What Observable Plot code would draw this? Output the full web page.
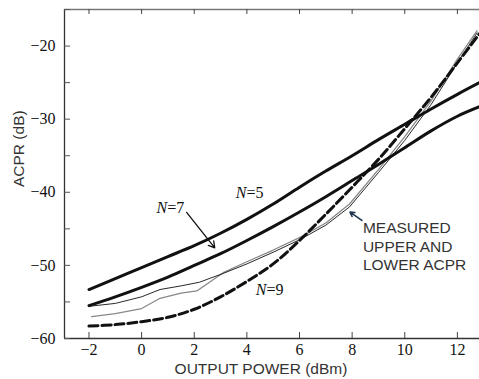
<!DOCTYPE html>
<html>
<head>
<meta charset="utf-8">
<script src="https://cdn.jsdelivr.net/npm/d3@7"></script>
<script src="https://cdn.jsdelivr.net/npm/@observablehq/plot@0.6"></script>
<style>
  html, body { margin: 0; padding: 0; background: #fff; }
  #chart svg { display: block; }
</style>
</head>
<body>
<div id="chart"></div>
<script>
// ---- data ----
const modelPower = [-2, -1, 0, 1, 2, 3, 4, 5, 6, 7, 8, 9, 10, 11, 12, 12.84];
const acprN5 = [-53.3, -51.8, -50.3, -48.8, -47.3, -45.6, -43.7, -41.6, -39.3, -37.1, -35.0, -32.8, -30.7, -28.6, -26.6, -25.0];
const acprN7 = [-55.5, -54.3, -53.0, -51.6, -50.0, -48.4, -46.6, -44.7, -42.7, -40.6, -38.4, -36.2, -33.9, -31.6, -29.6, -28.3];
const acprN9 = [-58.3, -58.1, -57.7, -57.1, -56.0, -54.3, -52.2, -49.8, -46.6, -43.0, -39.3, -35.5, -31.3, -27.0, -22.3, -18.3];

const measUpperPower = [-2, -1, 0, 0.7, 1.5, 2.2, 3.1, 4, 5, 6, 7, 7.9, 9, 10, 11, 12, 12.75];
const measUpper = [-55.6, -55.2, -54.3, -53.3, -52.8, -52.3, -51.1, -49.8, -48.2, -46.5, -44.5, -42.0, -37.3, -32.9, -28.0, -22.3, -18.2];
const measLowerPower = [-1.9, -1, 0, 0.7, 1.5, 2.1, 3.1, 4, 5, 6, 7, 7.9, 9, 10, 11, 12, 12.75];
const measLower = [-57.0, -56.6, -55.9, -54.5, -53.8, -53.5, -51.0, -49.5, -47.9, -46.2, -44.2, -41.6, -36.9, -32.4, -27.5, -21.8, -17.9];

const xTicks = [-2, 0, 2, 4, 6, 8, 10, 12];
const yTickLabels = [-60, -50, -40, -30, -20];
const yTicks = [-60, -55, -50, -45, -40, -35, -30, -25, -20, -15];

const nLabels = ["N=5", "N=7", "N=9"];
const nLabelX = [3.58, 0.57, 4.34];
const nLabelY = [-40.8, -42.9, -54.1];

const measuredText = ["MEASURED", "UPPER AND", "LOWER ACPR"];
const measuredTextX = [8.41, 8.41, 8.41];
const measuredTextY = [-45.6, -48.15, -50.65];

// arrows: [x1, y1, x2, y2]
const arrowN7 = [1.71, -42.76, 2.78, -47.6];
const arrowMeas = [8.37, -43.85, 7.92, -42.72];

const xLabel = "OUTPUT POWER (dBm)";
const yLabel = "ACPR (dB)";

// ---- layout ----
const W = 479, H = 379;
const mL = 64, mR = 0, mT = 9, mB = 41;
const xDomain = [-2.93, 12.84];
const yDomain = [-60, -15];
const pxPerX = (W - mL - mR) / (xDomain[1] - xDomain[0]);
const pxPerY = (H - mT - mB) / (yDomain[1] - yDomain[0]);
const tickLen = 6;

const series = (xs, ys) => xs.map((x, i) => ({x, y: ys[i]}));
const n5 = series(modelPower, acprN5);
const n7 = series(modelPower, acprN7);
const n9 = series(modelPower, acprN9);
const mUp = series(measUpperPower, measUpper);
const mLo = series(measLowerPower, measLower);
const nLab = nLabels.map((t, i) => ({t, x: nLabelX[i], y: nLabelY[i]}));
const mText = measuredText.map((t, i) => ({t, x: measuredTextX[i], y: measuredTextY[i]}));
const fmt = d => d < 0 ? "\u2212" + Math.abs(d) : String(d);

const serif = "'Liberation Serif', 'Times New Roman', serif";
const sans = "'Liberation Sans', Arial, sans-serif";

const chart = Plot.plot({
  width: W, height: H,
  marginLeft: mL, marginRight: mR, marginTop: mT, marginBottom: mB,
  x: {domain: xDomain, axis: null},
  y: {domain: yDomain, axis: null},
  style: {background: "#fff"},
  marks: [
    // frame lines
    Plot.ruleX([xDomain[0]], {stroke: "#333", strokeWidth: 1.3}),
    Plot.ruleY([yDomain[0]], {stroke: "#333", strokeWidth: 1.3}),
    Plot.ruleY([yDomain[1]], {stroke: "#777", strokeWidth: 1.5}),
    // inward ticks
    Plot.ruleY(yTicks, {y: d => d, x1: xDomain[0], x2: xDomain[0] + tickLen / pxPerX, stroke: "#555", strokeWidth: 1}),
    Plot.ruleX(xTicks, {x: d => d, y1: yDomain[0], y2: yDomain[0] + tickLen / pxPerY, stroke: "#444", strokeWidth: 1}),
    Plot.ruleX(xTicks, {x: d => d, y1: yDomain[1], y2: yDomain[1] - 5 / pxPerY, stroke: "#444", strokeWidth: 1}),
    // tick labels
    Plot.axisX({ticks: xTicks, tickSize: 0, tickPadding: 5, tickFormat: fmt, label: null,
      fontFamily: serif, fontSize: 16, color: "#111"}),
    Plot.axisY({ticks: yTickLabels, tickSize: 0, tickPadding: 9, tickFormat: fmt, label: null,
      fontFamily: serif, fontSize: 16, color: "#111"}),
    // curves
    Plot.line(mLo, {x: "x", y: "y", stroke: "#888", strokeWidth: 1.3, clip: true}),
    Plot.line(mUp, {x: "x", y: "y", stroke: "#111", strokeWidth: 0.9, clip: true}),
    Plot.line(n5, {x: "x", y: "y", curve: "catmull-rom", stroke: "#111", strokeWidth: 3, clip: true}),
    Plot.line(n7, {x: "x", y: "y", curve: "catmull-rom", stroke: "#111", strokeWidth: 3, clip: true}),
    Plot.line(n9, {x: "x", y: "y", curve: "catmull-rom", stroke: "#111", strokeWidth: 3, strokeDasharray: "9,4", clip: true}),
    // annotations
    Plot.arrow([arrowN7], {x1: d => d[0], y1: d => d[1], x2: d => d[2], y2: d => d[3], stroke: "#111", strokeWidth: 1.3, headLength: 8}),
    Plot.arrow([arrowMeas], {x1: d => d[0], y1: d => d[1], x2: d => d[2], y2: d => d[3], stroke: "#1d3550", strokeWidth: 1.6, headLength: 6}),
    Plot.text(nLab, {x: "x", y: "y", text: "t", textAnchor: "start", lineAnchor: "bottom",
      fontFamily: serif, fontSize: 16, fill: "#111", className: "nlab"}),
    Plot.text(mText, {x: "x", y: "y", text: "t", textAnchor: "start", lineAnchor: "bottom",
      fontFamily: sans, fontSize: 15.5, fill: "#333"}),
    // axis titles
    Plot.text([xLabel], {frameAnchor: "bottom", text: d => d, lineAnchor: "bottom", dy: 35, dx: -11,
      fontFamily: sans, fontSize: 15.5, fill: "#333"}),
    Plot.text([yLabel], {frameAnchor: "left", text: d => d, rotate: -90, lineAnchor: "middle", dx: -45, dy: 13,
      fontFamily: sans, fontSize: 15.5, fill: "#333"})
  ]
});

// italic N in the N=… labels
d3.select(chart).selectAll(".nlab text").each(function() {
  const t = this.textContent;
  this.textContent = "";
  const sel = d3.select(this);
  sel.append("tspan").attr("font-style", "italic").text(t.slice(0, 1));
  sel.append("tspan").text(t.slice(1));
});

document.getElementById("chart").appendChild(chart);
</script>
</body>
</html>
